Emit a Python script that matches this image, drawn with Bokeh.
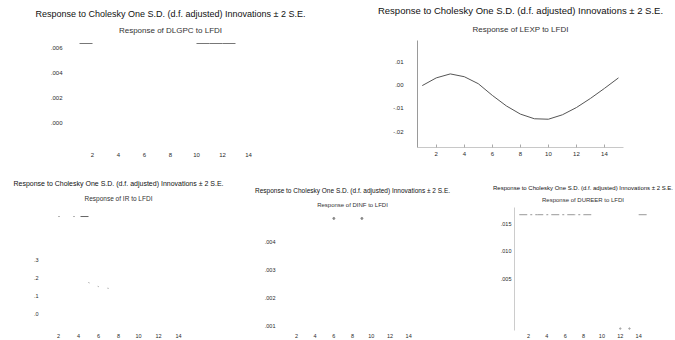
from bokeh.plotting import figure
from bokeh.layouts import row, column
from bokeh.models import Title, FixedTicker, Range1d
from bokeh.embed import file_html
from bokeh.resources import INLINE

nan = float("nan")

# ---------------- data ----------------
periods = list(range(1, 16))
x_ticks = [2, 4, 6, 8, 10, 12, 14]

main_title = "Response to Cholesky One S.D. (d.f. adjusted) Innovations \u00b1 2 S.E."
sub_dlgpc = "Response of DLGPC to LFDI"
sub_lexp = "Response of LEXP to LFDI"
sub_ir = "Response of IR to LFDI"
sub_dinf = "Response of DINF to LFDI"
sub_dureer = "Response of DUREER to LFDI"

# y tick values / labels
dlgpc_yticks = [0.000, 0.002, 0.004, 0.006]
dlgpc_ylabels = [".000", ".002", ".004", ".006"]
lexp_yticks = [-0.02, -0.01, 0.0, 0.01]
lexp_ylabels = ["-.02", "-.01", ".00", ".01"]
ir_yticks = [0.0, 0.1, 0.2, 0.3]
ir_ylabels = [".0", ".1", ".2", ".3"]
dinf_yticks = [0.001, 0.002, 0.003, 0.004]
dinf_ylabels = [".001", ".002", ".003", ".004"]
dureer_yticks = [0.005, 0.010, 0.015]
dureer_ylabels = [".005", ".010", ".015"]

# LEXP response (clearly visible curve)
lexp_resp = [-0.0003, 0.0030, 0.0047, 0.0035, 0.0005, -0.0045, -0.0090, -0.0125,
             -0.0145, -0.0147, -0.0128, -0.0097, -0.0058, -0.0015, 0.0030]

# only fragments of the other panels survive in the picture
dlgpc_upper = [0.00632, 0.00632, nan, nan, nan, nan, nan, nan, nan,
               0.00632, 0.00632, 0.00632, 0.00632, nan, nan]
ir_upper = [nan, 0.548, 0.548, 0.548, 0.548, nan, nan, nan, nan, nan, nan, nan, nan, nan, nan]
ir_resp = [nan, nan, nan, nan, 0.175, 0.152, 0.142, nan, nan, nan, nan, nan, nan, nan, nan]
dinf_upper_x = [6, 9]
dinf_upper_y = [0.00486, 0.00486]
dureer_upper = [0.0166, 0.0166, 0.0166, 0.0166, 0.0166, 0.0166, 0.0166, 0.0166, 0.0166,
                nan, nan, nan, nan, 0.0166, 0.0166]
dureer_lower_x = [12, 13]
dureer_lower_y = [-0.0041, -0.0041]

FONT = "Liberation Sans"


def panel(width, height, borders, xr, yr, yticks, ylabels, sub, title_size, sub_size,
          tick_size, ystand, xstand, title_stand, sub_stand,
          show_left=False, show_bottom=False):
    l, r, t, b = borders
    p = figure(width=width, height=height, output_backend="svg", toolbar_location=None,
               x_range=Range1d(*xr), y_range=Range1d(*yr),
               min_border_left=l, min_border_right=r, min_border_top=t, min_border_bottom=b)
    p.title.text = main_title
    p.title.text_font = FONT
    p.title.text_font_size = title_size
    p.title.text_font_style = "normal"
    p.title.text_color = "#111111"
    p.title.align = "center"
    p.title.standoff = title_stand
    st = Title(text=sub, text_font=FONT, text_font_size=sub_size,
               text_font_style="normal", text_color="#333333", align="center",
               standoff=sub_stand)
    p.add_layout(st, "above")
    p.grid.visible = False
    p.outline_line_color = None
    p.background_fill_color = "white"
    p.border_fill_color = "white"

    p.xaxis.ticker = FixedTicker(ticks=x_ticks)
    p.yaxis.ticker = FixedTicker(ticks=yticks)
    p.yaxis.major_label_overrides = {v: s for v, s in zip(yticks, ylabels)}
    for ax in (p.xaxis, p.yaxis):
        ax.major_label_text_font = FONT
        ax.major_label_text_font_size = tick_size
        ax.major_label_text_color = "#2a2a2a"
        ax.minor_tick_line_color = None
        ax.major_tick_out = 0
        ax.major_tick_in = 0
        ax.axis_line_color = None
    p.yaxis.major_label_standoff = ystand
    p.xaxis.major_label_standoff = xstand
    if show_left:
        p.yaxis.axis_line_color = "#9a9a9a"
    if show_bottom:
        p.xaxis.axis_line_color = "#c8c8c8"
        p.xaxis.major_tick_in = 3
        p.xaxis.major_tick_line_color = "#aaaaaa"
    return p


H = 170
# top row: frames share top 40 / bottom 147
p1 = panel(337, H, (72, 69, 40, 23), (0.46, 15.54), (-0.002, 0.00656),
           dlgpc_yticks, dlgpc_ylabels, sub_dlgpc, "9px", "8px", "6px", 10, 5, 0, 11)
p1.line(periods, dlgpc_upper, line_color="#777777", line_width=1)

p2 = panel(338, H, (80, 52, 40, 23), (0.66, 15.36), (-0.0268, 0.019),
           lexp_yticks, lexp_ylabels, sub_lexp, "9.5px", "8px", "6px", 14, 4, 0, 14,
           show_left=True, show_bottom=True)
p2.line(periods, lexp_resp, line_color="#555555", line_width=1)

# bottom row: frames share top 37 / bottom 160 (local)
p3 = panel(228, H, (44, 36, 37, 10), (0.6, 15.4), (-0.096, 0.599),
           ir_yticks, ir_ylabels, sub_ir, "7px", "6.5px", "5.5px", 6, 3, 0, 12)
p3.line(periods, ir_upper, line_color="#666666", line_width=1, line_dash="1 14 1 6 12")
p3.line(periods, ir_resp, line_color="#888888", line_width=1, line_dash="1 9")

p4 = panel(227, H, (54, 33, 37, 10), (0.51, 15.48), (0.000857, 0.00525),
           dinf_yticks, dinf_ylabels, sub_dinf, "6.5px", "6px", "5.5px", 7, 3, 12, 0)
p4.scatter(dinf_upper_x, dinf_upper_y, size=2, color="#888888")

p5 = panel(220, H, (59, 24, 37, 10), (0.48, 15.4), (-0.00445, 0.01791),
           dureer_yticks, dureer_ylabels, sub_dureer, "6px", "6px", "5.5px", 3, 3, 0, 9,
           show_left=True)
p5.yaxis.axis_line_color = "#cccccc"
p5.line(periods, dureer_upper, line_color="#999999", line_width=1, line_dash="8 3 2 3")
p5.scatter(dureer_lower_x, dureer_lower_y, size=1.5, color="#aaaaaa")

layout = column(row(p1, p2), row(p3, p4, p5))
open("out.html", "w").write(file_html(layout, INLINE))
